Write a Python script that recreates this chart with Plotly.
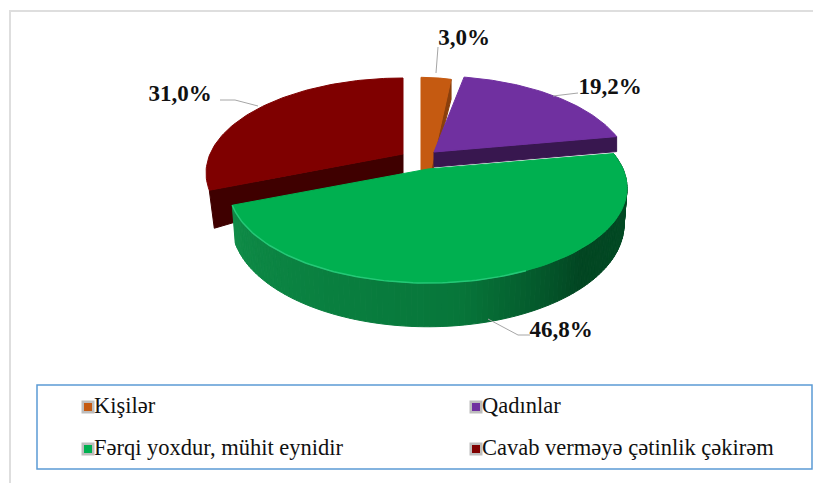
import math
import plotly.graph_objects as go

categories = ["Kişilər", "Qadınlar", "Fərqi yoxdur, mühit eynidir", "Cavab verməyə çətinlik çəkirəm"]
values = [3.0, 19.2, 46.8, 31.0]
value_labels = ["3,0%", "19,2%", "46,8%", "31,0%"]

top_colors = ["#C55A11", "#7030A0", "#00B050", "#7F0000"]
side_colors = ["#8A3F0C", "#38174F", "#0A7A3C", "#3F0000"]
# apex x, apex y, horizontal radius A, vertical radius B, side depth at apex, side depth at rim
geom = [(421, 214, 192, 164, 2, 20), (434, 152, 192, 91.2, 15, 15),
        (428, 169, 195, 91.2, 35, 35), (403, 154, 193, 91.2, 19, 38)]
PERSPECTIVE = 0.2
label_pos = [(464, 39), (610, 88), (561, 331), (180, 95)]
leaders = [[(436, 73), (438, 47)], [(553, 96), (578, 93)],
           [(488, 319), (518, 335), (530, 335)], [(258, 106), (235, 100), (220, 100)]]
legend_xs = [87, 475, 87, 475]
legend_ys = [407, 407, 449, 449]
green_side_stops = [(0.0, (2, 86, 43)), (0.12, (2, 74, 36)), (0.35, (2, 70, 34)), (0.55, (7, 118, 58)),
                    (0.8, (10, 130, 65)), (1.0, (16, 140, 72))]

# angular span of each slice, clockwise from 12 o'clock
spans = []
acc = 0.0
total = sum(values)
for v in values:
    spans.append((acc * 2 * math.pi / total, (acc + v) * 2 * math.pi / total))
    acc += v


def rim_point(g, t):
    w = 1 + PERSPECTIVE * math.cos(t)
    return (g[0] + g[2] * math.sin(t) / w, g[1] - g[3] * math.cos(t) / w)


def arc(g, a0, a1, n=80):
    return [rim_point(g, a0 + (a1 - a0) * i / n) for i in range(n + 1)]


def lower(g, p, t):
    w = 1 + PERSPECTIVE * math.cos(t)
    return (g[0] + (p[0] - g[0]) * 0.985, p[1] + g[5] / w)


def poly(pts, color):
    xs = [p[0] for p in pts] + [pts[0][0]]
    ys = [p[1] for p in pts] + [pts[0][1]]
    return go.Scatter(x=xs, y=ys, mode="lines", fill="toself", fillcolor=color,
                      line=dict(color=color, width=1), hoverinfo="skip", showlegend=False)


def lerp_color(t):
    for (t0, c0), (t1, c1) in zip(green_side_stops, green_side_stops[1:]):
        if t <= t1:
            f = (t - t0) / (t1 - t0)
            return "rgb(%d,%d,%d)" % tuple(round(c0[k] + (c1[k] - c0[k]) * f) for k in range(3))
    return "rgb(16,140,72)"


fig = go.Figure()

# red slice: radial side, then top
g = geom[3]
a0, a1 = spans[3]
rim = rim_point(g, a0)
apex = (g[0], g[1])
fig.add_trace(poly([apex, rim, (rim[0] + 5, rim[1] + g[5]), (apex[0], apex[1] + g[4])], side_colors[3]))
fig.add_trace(poly([apex] + arc(g, a0, a1), top_colors[3]))

# orange and purple slices
for idx in (0, 1):
    g = geom[idx]
    a0, a1 = spans[idx]
    rim = rim_point(g, a1)
    apex = (g[0], g[1])
    fig.add_trace(poly([apex, rim, (rim[0], rim[1] + g[5]), (apex[0], apex[1] + g[4])], side_colors[idx]))
    fig.add_trace(poly([apex] + arc(g, a0, a1), top_colors[idx]))

# green slice: shaded rim in segments, then top and highlight
g = geom[2]
a0, a1 = spans[2]
segments = 120
for i in range(segments):
    s0 = a0 + (a1 - a0) * i / segments
    s1 = a0 + (a1 - a0) * (i + 1) / segments
    up = [rim_point(g, s0), rim_point(g, s1)]
    low = [lower(g, up[1], s1), lower(g, up[0], s0)]
    fig.add_trace(poly(up + low, lerp_color((i + 0.5) / segments)))
fig.add_trace(poly([(g[0], g[1])] + arc(g, a0, a1), top_colors[2]))
edge = arc(g, a0 + (a1 - a0) * 0.45, a1)
fig.add_trace(go.Scatter(x=[p[0] for p in edge], y=[p[1] for p in edge], mode="lines",
                         line=dict(color="#25C877", width=1.5), hoverinfo="skip", showlegend=False))

# leader lines and percent labels
for pts in leaders:
    fig.add_trace(go.Scatter(x=[p[0] for p in pts], y=[p[1] for p in pts], mode="lines",
                             line=dict(color="#A6A6A6", width=1), hoverinfo="skip", showlegend=False))
fig.add_trace(go.Scatter(x=[p[0] for p in label_pos], y=[p[1] for p in label_pos], mode="text",
                         text=value_labels, textposition="middle center",
                         textfont=dict(family="Liberation Serif", size=23, color="#111111", weight="bold"),
                         hoverinfo="skip", showlegend=False))

# legend
fig.add_trace(go.Scatter(x=[x + 1 for x in legend_xs], y=legend_ys, mode="markers",
                         marker=dict(symbol="square", size=13, color="#BDBDBD"),
                         hoverinfo="skip", showlegend=False))
fig.add_trace(go.Scatter(x=[x + 1 for x in legend_xs], y=legend_ys, mode="markers+text",
                         marker=dict(symbol="square", size=8, color=top_colors),
                         text=categories, textposition="middle right",
                         textfont=dict(family="Liberation Serif", size=22.5, color="#111111"),
                         hoverinfo="skip", showlegend=False))

fig.update_layout(
    width=813, height=483, margin=dict(l=0, r=0, t=0, b=0),
    paper_bgcolor="white", plot_bgcolor="white", showlegend=False,
    xaxis=dict(range=[0, 813], visible=False, fixedrange=True),
    yaxis=dict(range=[483, 0], visible=False, fixedrange=True),
    shapes=[
        dict(type="line", x0=9, x1=813, y0=11, y1=11, line=dict(color="#DEDEDE", width=2), layer="below"),
        dict(type="line", x0=10, x1=10, y0=10, y1=483, line=dict(color="#DEDEDE", width=2), layer="below"),
        dict(type="rect", x0=37, x1=812, y0=385, y1=469, line=dict(color="#5B9BD5", width=1.5), layer="below"),
    ],
)
fig.write_html("out.html", config=dict(displayModeBar=False),
               post_script="document.body.style.margin='0';document.body.style.overflow='hidden';")
